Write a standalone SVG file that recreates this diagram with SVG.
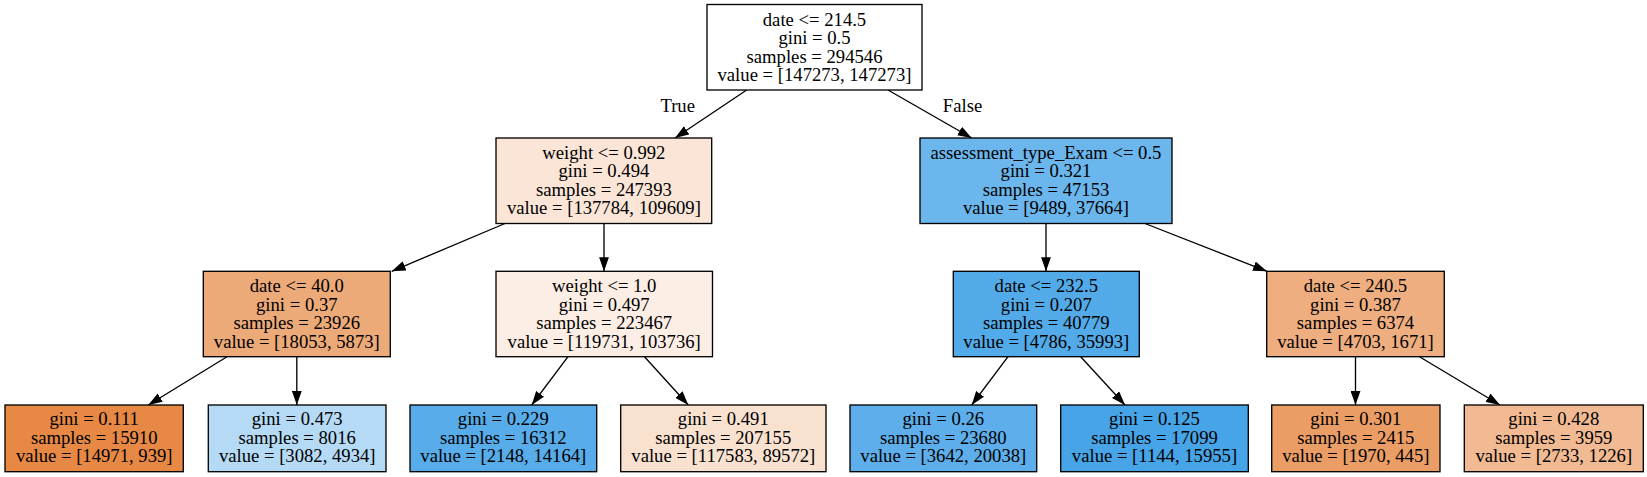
<svg xmlns="http://www.w3.org/2000/svg" width="1647" height="477" viewBox="0 0 1647 477">
<style>
  .box { stroke: #000; stroke-width: 1.33; }
  text { font-family: "Liberation Serif", "Times New Roman", serif; font-size: 18.67px; fill: #000; text-anchor: middle; }
  .edge { stroke: #000; stroke-width: 1.33; fill: none; marker-end: url(#ah); }
</style>
<defs>
  <marker id="ah" markerUnits="userSpaceOnUse" markerWidth="14" markerHeight="10" refX="13.3" refY="4.67" orient="auto" viewBox="0 0 13.3 9.33">
    <path d="M0,0 L13.3,4.67 L0,9.33 z" fill="#000"/>
  </marker>
</defs>
<rect width="1647" height="477" fill="#fff"/>

<g id="connectors">
  <path class="edge" d="M746.7,90 L675,138"/>
  <path class="edge" d="M888,90 L971.7,138"/>
  <path class="edge" d="M505,223.5 L391.7,271.3"/>
  <path class="edge" d="M604,223.5 L604,271.3"/>
  <path class="edge" d="M1046,223.5 L1046,271.3"/>
  <path class="edge" d="M1145,223.5 L1267,271.3"/>
  <path class="edge" d="M227,356.7 L148.3,405"/>
  <path class="edge" d="M296.8,356.7 L296.8,405"/>
  <path class="edge" d="M568,356.7 L531.7,405"/>
  <path class="edge" d="M644.5,356.7 L688.3,405"/>
  <path class="edge" d="M1008,356.7 L971.7,405"/>
  <path class="edge" d="M1080.7,356.7 L1125,405"/>
  <path class="edge" d="M1355.5,356.7 L1355.5,405"/>
  <path class="edge" d="M1419.5,356.7 L1500,405"/>
  <text x="677.7" y="111.7">True</text>
  <text x="962.5" y="111.7">False</text>
</g>

<g id="n0">
  <rect class="box" x="707" y="4.5" width="215" height="85.5" fill="#ffffff"/>
  <text x="814.5" y="25.7">date &lt;= 214.5</text>
  <text x="814.5" y="44.2">gini = 0.5</text>
  <text x="814.5" y="62.7">samples = 294546</text>
  <text x="814.5" y="81.2">value = [147273, 147273]</text>
</g>

<g id="n1">
  <rect class="box" x="496" y="138" width="215.7" height="85.5" fill="#fae5d7"/>
  <text x="603.9" y="158.7">weight &lt;= 0.992</text>
  <text x="603.9" y="177.2">gini = 0.494</text>
  <text x="603.9" y="195.7">samples = 247393</text>
  <text x="603.9" y="214.2">value = [137784, 109609]</text>
</g>

<g id="n8">
  <rect class="box" x="920" y="138" width="252" height="85.5" fill="#6bb6ec"/>
  <text x="1046" y="158.7">assessment_type_Exam &lt;= 0.5</text>
  <text x="1046" y="177.2">gini = 0.321</text>
  <text x="1046" y="195.7">samples = 47153</text>
  <text x="1046" y="214.2">value = [9489, 37664]</text>
</g>

<g id="n2">
  <rect class="box" x="203.3" y="271.3" width="187" height="85.4" fill="#edaa79"/>
  <text x="296.8" y="292">date &lt;= 40.0</text>
  <text x="296.8" y="310.5">gini = 0.37</text>
  <text x="296.8" y="329">samples = 23926</text>
  <text x="296.8" y="347.5">value = [18053, 5873]</text>
</g>

<g id="n5">
  <rect class="box" x="496" y="271.3" width="216.5" height="85.4" fill="#fceee5"/>
  <text x="604.2" y="292">weight &lt;= 1.0</text>
  <text x="604.2" y="310.5">gini = 0.497</text>
  <text x="604.2" y="329">samples = 223467</text>
  <text x="604.2" y="347.5">value = [119731, 103736]</text>
</g>

<g id="n9">
  <rect class="box" x="953.3" y="271.3" width="186" height="85.4" fill="#53aae8"/>
  <text x="1046.3" y="292">date &lt;= 232.5</text>
  <text x="1046.3" y="310.5">gini = 0.207</text>
  <text x="1046.3" y="329">samples = 40779</text>
  <text x="1046.3" y="347.5">value = [4786, 35993]</text>
</g>

<g id="n12">
  <rect class="box" x="1266.7" y="271.3" width="177.6" height="85.4" fill="#eeae7f"/>
  <text x="1355.5" y="292">date &lt;= 240.5</text>
  <text x="1355.5" y="310.5">gini = 0.387</text>
  <text x="1355.5" y="329">samples = 6374</text>
  <text x="1355.5" y="347.5">value = [4703, 1671]</text>
</g>

<g id="n3">
  <rect class="box" x="5" y="405" width="178.3" height="66.7" fill="#e78945"/>
  <text x="94.2" y="425.3">gini = 0.111</text>
  <text x="94.2" y="443.8">samples = 15910</text>
  <text x="94.2" y="462.3">value = [14971, 939]</text>
</g>

<g id="n4">
  <rect class="box" x="208.3" y="405" width="177.7" height="66.7" fill="#b5daf5"/>
  <text x="297.2" y="425.3">gini = 0.473</text>
  <text x="297.2" y="443.8">samples = 8016</text>
  <text x="297.2" y="462.3">value = [3082, 4934]</text>
</g>

<g id="n6">
  <rect class="box" x="410" y="405" width="186.7" height="66.7" fill="#57ace9"/>
  <text x="503.3" y="425.3">gini = 0.229</text>
  <text x="503.3" y="443.8">samples = 16312</text>
  <text x="503.3" y="462.3">value = [2148, 14164]</text>
</g>

<g id="n7">
  <rect class="box" x="620.7" y="405" width="205.3" height="66.7" fill="#f9e1d0"/>
  <text x="723.3" y="425.3">gini = 0.491</text>
  <text x="723.3" y="443.8">samples = 207155</text>
  <text x="723.3" y="462.3">value = [117583, 89572]</text>
</g>

<g id="n10">
  <rect class="box" x="850" y="405" width="186.7" height="66.7" fill="#5daeea"/>
  <text x="943.3" y="425.3">gini = 0.26</text>
  <text x="943.3" y="443.8">samples = 23680</text>
  <text x="943.3" y="462.3">value = [3642, 20038]</text>
</g>

<g id="n11">
  <rect class="box" x="1060.7" y="405" width="187.6" height="66.7" fill="#47a4e7"/>
  <text x="1154.5" y="425.3">gini = 0.125</text>
  <text x="1154.5" y="443.8">samples = 17099</text>
  <text x="1154.5" y="462.3">value = [1144, 15955]</text>
</g>

<g id="n13">
  <rect class="box" x="1271.7" y="405" width="168.3" height="66.7" fill="#eb9d66"/>
  <text x="1355.8" y="425.3">gini = 0.301</text>
  <text x="1355.8" y="443.8">samples = 2415</text>
  <text x="1355.8" y="462.3">value = [1970, 445]</text>
</g>

<g id="n14">
  <rect class="box" x="1464.3" y="405" width="179" height="66.7" fill="#f1ba92"/>
  <text x="1553.8" y="425.3">gini = 0.428</text>
  <text x="1553.8" y="443.8">samples = 3959</text>
  <text x="1553.8" y="462.3">value = [2733, 1226]</text>
</g>
</svg>
